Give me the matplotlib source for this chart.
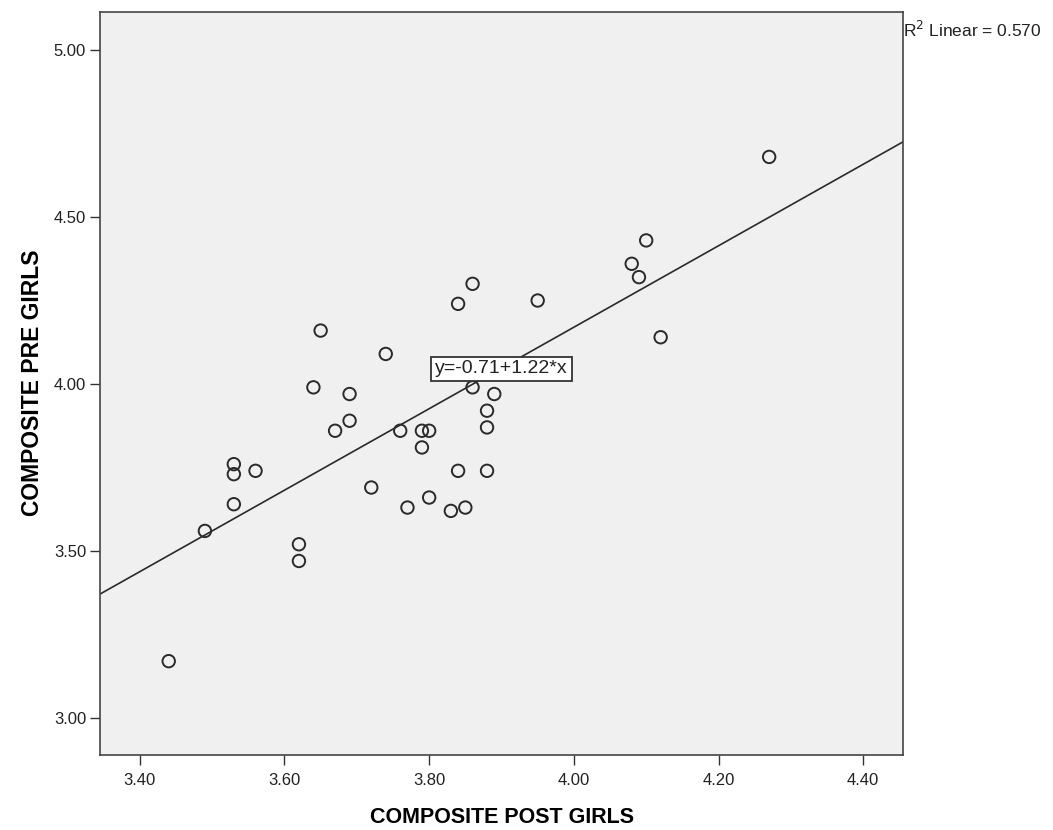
import matplotlib
matplotlib.use("Agg")
import matplotlib.pyplot as plt
import numpy as np

plt.rcParams['font.family'] = ['Liberation Sans', 'DejaVu Sans']

post_girls = [3.44, 3.49, 3.53, 3.53, 3.53, 3.56, 3.62, 3.62, 3.64, 3.65,
              3.67, 3.69, 3.69, 3.72, 3.74, 3.76, 3.77, 3.79, 3.79, 3.80,
              3.80, 3.83, 3.84, 3.84, 3.85, 3.86, 3.86, 3.88, 3.88, 3.88,
              3.89, 3.95, 4.08, 4.09, 4.10, 4.12, 4.27]
pre_girls = [3.17, 3.56, 3.76, 3.73, 3.64, 3.74, 3.52, 3.47, 3.99, 4.16,
             3.86, 3.97, 3.89, 3.69, 4.09, 3.86, 3.63, 3.81, 3.86, 3.86,
             3.66, 3.62, 4.24, 3.74, 3.63, 4.30, 3.99, 3.92, 3.87, 3.74,
             3.97, 4.25, 4.36, 4.32, 4.43, 4.14, 4.68]
intercept = -0.71
slope = 1.22
r2 = 0.570
x_ticks = [3.40, 3.60, 3.80, 4.00, 4.20, 4.40]
y_ticks = [3.00, 3.50, 4.00, 4.50, 5.00]

fig = plt.figure(figsize=(10.53, 8.30), dpi=100)
ax = fig.add_axes([100/1053, 75/830, 803/1053, 743/830])
ax.set_facecolor('#F0F0F0')

xmin, xmax = 3.345, 4.455
ymin, ymax = 2.889, 5.114
ax.set_xlim(xmin, xmax)
ax.set_ylim(ymin, ymax)

xl = np.array([xmin, xmax])
ax.plot(xl, intercept + slope * xl, color='#2a2a2a', lw=1.2, zorder=2)

ax.scatter(post_girls, pre_girls, s=80, facecolors='none', edgecolors='#2a2a2a',
           linewidths=1.4, zorder=3)

ax.text(3.90, 4.045, f"y={intercept:.2f}+{slope:.2f}*x", fontsize=14,
        ha='center', va='center', color='#222222', zorder=4,
        bbox=dict(boxstyle='square,pad=0.2', facecolor='white', edgecolor='#333333', lw=1.3))

ax.set_xticks(x_ticks)
ax.set_xticklabels([f"{v:.2f}" for v in x_ticks])
ax.set_yticks(y_ticks)
ax.set_yticklabels([f"{v:.2f}" for v in y_ticks])
ax.tick_params(axis='both', direction='out', length=7, width=1, color='#333333',
               labelsize=12, labelcolor='#222222')
ax.tick_params(axis='x', pad=6)
ax.tick_params(axis='y', pad=3)
for sp in ax.spines.values():
    sp.set_color('#444444')
    sp.set_linewidth(1.2)

ax.set_xlabel('COMPOSITE POST GIRLS', fontsize=15.5, fontweight='bold', va='center')
ax.xaxis.set_label_coords(0.5, (755 - 817) / 743)
ax.set_ylabel('COMPOSITE PRE GIRLS', fontsize=16.5, fontweight='bold', va='center')
ax.yaxis.set_label_coords((33 - 100) / 803, (755 - 383) / 743)

fig.text(903/1053, 1 - 30/830, r"R$^2$ Linear = " + f"{r2:.3f}", fontsize=12.5,
         ha='left', va='center', color='#222222')

fig.savefig('out.png', dpi=100)
